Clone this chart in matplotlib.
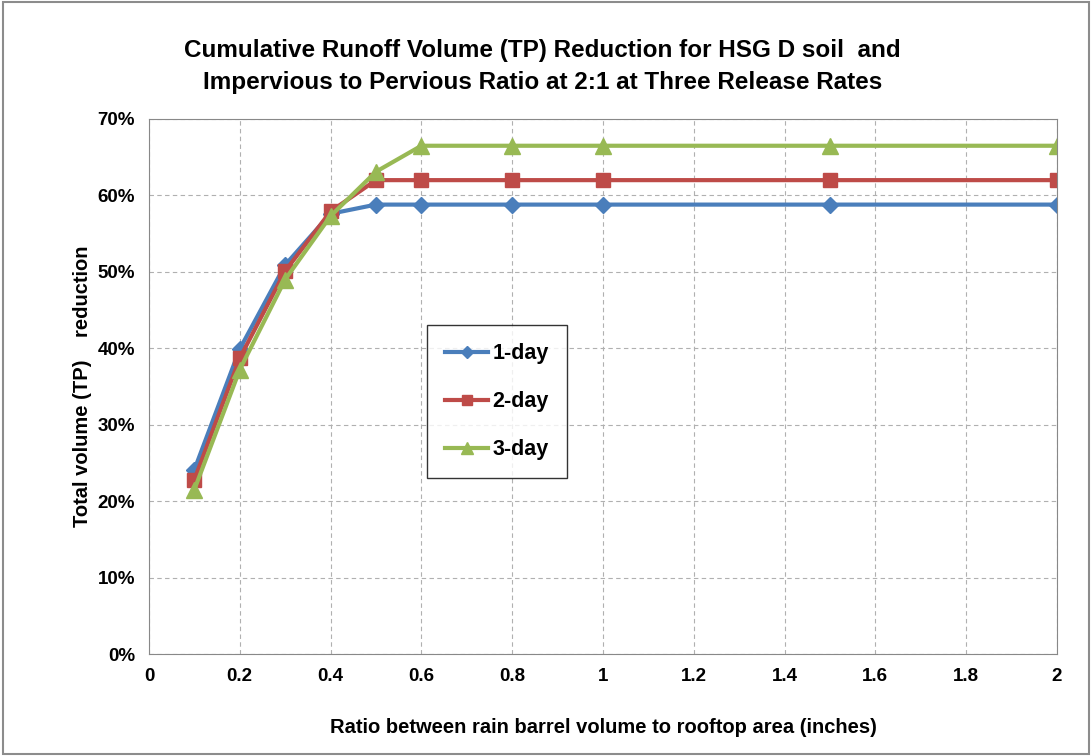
import matplotlib.pyplot as plt
from matplotlib.ticker import PercentFormatter
from matplotlib.patches import Rectangle

ratio = [0.1, 0.2, 0.3, 0.4, 0.5, 0.6, 0.8, 1.0, 1.5, 2.0]
one_day = [24.1, 39.9, 50.9, 57.6, 58.8, 58.8, 58.8, 58.8, 58.8, 58.8]
two_day = [22.8, 38.7, 50.1, 57.9, 62.0, 62.0, 62.0, 62.0, 62.0, 62.0]
three_day = [21.5, 37.2, 49.0, 57.3, 63.1, 66.5, 66.5, 66.5, 66.5, 66.5]

plt.rcParams['font.family'] = ['Liberation Sans', 'DejaVu Sans']

fig = plt.figure(figsize=(10.92, 7.56), dpi=100)
fig.patches.append(Rectangle((0.003, 0.003), 0.994, 0.994, transform=fig.transFigure,
                             fill=False, edgecolor='#8c8c8c', linewidth=1.5))
ax = fig.add_axes([0.1364, 0.1349, 0.8315, 0.7077])

ax.plot(ratio, one_day, color='#4a7ebb', marker='D', markersize=8, linewidth=3, label='1-day')
ax.plot(ratio, two_day, color='#be4b48', marker='s', markersize=10, linewidth=3, label='2-day')
ax.plot(ratio, three_day, color='#98b954', marker='^', markersize=11, linewidth=3, label='3-day')

ax.set_xlim(0, 2)
ax.set_ylim(0, 70)
ax.set_xticks([0, 0.2, 0.4, 0.6, 0.8, 1, 1.2, 1.4, 1.6, 1.8, 2])
ax.set_xticklabels(['0', '0.2', '0.4', '0.6', '0.8', '1', '1.2', '1.4', '1.6', '1.8', '2'])
ax.set_yticks(range(0, 71, 10))
ax.yaxis.set_major_formatter(PercentFormatter(decimals=0))
ax.tick_params(labelsize=13.5, length=0, pad=10)
for lbl in ax.get_xticklabels() + ax.get_yticklabels():
    lbl.set_fontweight('bold')
ax.grid(True, linestyle=(0, (4, 3)), color='#b0b0b0', linewidth=0.8)
for s in ax.spines.values():
    s.set_color('#888888')

ax.set_xlabel('Ratio between rain barrel volume to rooftop area (inches)', fontsize=14.5,
              fontweight='bold', labelpad=24)
ax.set_ylabel('Total volume (TP)    reduction', fontsize=14.5, fontweight='bold', labelpad=4)
fig.text(0.497, 0.948, 'Cumulative Runoff Volume (TP) Reduction for HSG D soil  and\n'
         'Impervious to Pervious Ratio at 2:1 at Three Release Rates',
         fontsize=17.5, fontweight='bold', ha='center', va='top', linespacing=1.5)

leg = ax.legend(loc='upper left', bbox_to_anchor=(0.306, 0.615), borderaxespad=0,
                prop={'weight': 'bold', 'size': 15.5},
                frameon=True, fancybox=False, edgecolor='black', labelspacing=1.25,
                handlelength=2.0, handletextpad=0.2, borderpad=0.85, markerscale=0.75)
leg.get_frame().set_linewidth(1.0)

fig.savefig('out.png', dpi=100)
